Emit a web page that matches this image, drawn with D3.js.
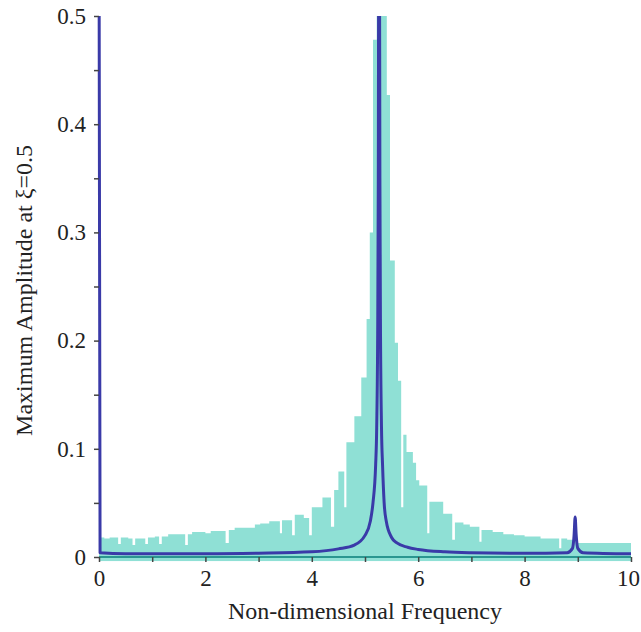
<!DOCTYPE html>
<html>
<head>
<meta charset="utf-8">
<script src="https://cdn.jsdelivr.net/npm/d3@7"></script>
<style>
  body { margin: 0; background: #fff; }
  svg text { font-family: "Liberation Serif", "Times New Roman", Tinos, "DejaVu Serif", serif; fill: #222; }
</style>
</head>
<body>
<svg id="chart"></svg>
<script>
// measured spectrum (step bins: start frequency, amplitude)
var specFreq = [0.00, 0.10, 0.20, 0.36, 0.41, 0.55, 0.63, 0.68, 0.87, 0.92, 1.05, 1.13, 1.18, 1.30,
                1.62, 1.67, 1.75, 2.00, 2.10, 2.38, 2.44, 2.55, 2.93, 3.03, 3.20, 3.40, 3.44, 3.63,
                3.68, 3.85, 3.95, 4.00, 4.20, 4.36, 4.42, 4.50, 4.61, 4.65, 4.80, 4.93, 5.03, 5.09,
                5.15, 5.22, 5.41, 5.47, 5.56, 5.62, 5.68, 5.72, 5.78, 5.90, 5.96, 6.02, 6.17, 6.21,
                6.47, 6.64, 6.69, 6.85, 6.97, 7.15, 7.19, 7.40, 7.60, 7.80, 8.00, 8.30, 8.65, 8.69,
                8.80, 9.00, 9.40, 10.00];
var specAmp  = [0.018, 0.017, 0.018, 0.012, 0.018, 0.017, 0.011, 0.017, 0.012, 0.018, 0.019, 0.012, 0.019, 0.021,
                0.011, 0.021, 0.023, 0.022, 0.024, 0.013, 0.025, 0.027, 0.030, 0.031, 0.033, 0.022, 0.034, 0.020,
                0.039, 0.036, 0.020, 0.046, 0.055, 0.028, 0.062, 0.079, 0.046, 0.106, 0.130, 0.166, 0.220, 0.300,
                0.478, 0.600, 0.427, 0.274, 0.198, 0.163, 0.046, 0.113, 0.097, 0.087, 0.071, 0.066, 0.022, 0.051,
                0.040, 0.016, 0.032, 0.030, 0.028, 0.014, 0.025, 0.023, 0.021, 0.020, 0.019, 0.017, 0.008, 0.017,
                0.016, 0.013, 0.013, 0.013];

// computed response curve
var respFreq = [0.00, 0.02, 0.50, 1.00, 2.00, 3.00, 4.00, 4.50, 4.80, 5.00, 5.10, 5.15, 5.20, 5.22, 5.24,
                5.25, 5.26, 5.27, 5.28, 5.29, 5.31, 5.33, 5.36, 5.40, 5.50, 5.60, 5.80, 6.00, 6.50,
                7.00, 8.00, 8.80, 8.90, 8.93, 8.95, 8.97, 9.00, 9.10, 10.00];
var respAmp  = [0.600, 0.004, 0.003, 0.003, 0.003, 0.0035, 0.0048, 0.0075, 0.011, 0.020, 0.033, 0.050, 0.085, 0.120, 0.220,
                0.350, 0.600, 0.600, 0.350, 0.220, 0.120, 0.085, 0.050, 0.033, 0.018, 0.013, 0.009, 0.007, 0.0048,
                0.004, 0.0035, 0.004, 0.008, 0.020, 0.037, 0.020, 0.008, 0.004, 0.003];

var xTicks = [0, 2, 4, 6, 8, 10];
var xMinor = [1, 3, 5, 7, 9];
var yTicks = [0, 0.1, 0.2, 0.3, 0.4, 0.5];
var yMinor = [0.05, 0.15, 0.25, 0.35, 0.45];

var width = 641;
var height = 632;
var serif = "'Liberation Serif', 'Times New Roman', Tinos, 'DejaVu Serif', serif";

var svg = d3.select("#chart")
  .attr("width", width)
  .attr("height", height);

var x = d3.scaleLinear().domain([0, 10]).range([99, 631]);
var y = d3.scaleLinear().domain([0, 0.5]).range([557, 16]);

svg.append("clipPath").attr("id", "plotclip")
  .append("rect")
  .attr("x", x(0) - 2)
  .attr("y", y(0.5))
  .attr("width", x(10) - x(0) + 4)
  .attr("height", y(-0.004) - y(0.5));

var plot = svg.append("g").attr("clip-path", "url(#plotclip)");

var spec = specFreq.map(function(f, i) { return {f: f, a: specAmp[i]}; });
var resp = respFreq.map(function(f, i) { return {f: f, a: respAmp[i]}; });

var area = d3.area()
  .curve(d3.curveStepAfter)
  .x(function(d) { return x(d.f); })
  .y0(y(-0.004))
  .y1(function(d) { return y(d.a); });

plot.append("path")
  .datum(spec)
  .attr("d", area)
  .attr("fill", "#8fe0d5");

// baseline
plot.append("line")
  .attr("x1", x(0)).attr("x2", x(10))
  .attr("y1", y(0)).attr("y2", y(0))
  .attr("stroke", "#2a9690")
  .attr("stroke-width", 2);

// axes
svg.append("g")
  .attr("transform", "translate(0," + y(0) + ")")
  .call(d3.axisBottom(x).tickValues(xTicks).tickFormat(d3.format("d")).tickSize(5).tickPadding(8));

svg.append("g")
  .attr("transform", "translate(0," + y(0) + ")")
  .call(d3.axisBottom(x).tickValues(xMinor).tickFormat("").tickSize(5))
  .select(".domain").remove();

svg.append("g")
  .attr("transform", "translate(" + x(0) + ",0)")
  .call(d3.axisLeft(y).tickValues(yTicks).tickFormat(function(d) { return d === 0 ? "0" : d3.format(".1f")(d); }).tickSize(5).tickPadding(8));

svg.append("g")
  .attr("transform", "translate(" + x(0) + ",0)")
  .call(d3.axisLeft(y).tickValues(yMinor).tickFormat("").tickSize(5))
  .select(".domain").remove();

svg.selectAll("g").attr("font-family", null);
svg.selectAll(".tick line").attr("stroke", "#444").attr("stroke-width", 1.5);
svg.selectAll(".domain").attr("stroke", "none");
svg.selectAll(".tick text")
  .attr("font-family", serif)
  .attr("font-size", 23)
  .attr("fill", "#222");

// keep the last x label inside the page
svg.selectAll(".tick text")
  .filter(function(d) { return d === 10; })
  .attr("dx", -3);

// response line on top
var line = d3.line()
  .curve(d3.curveMonotoneX)
  .x(function(d) { return x(d.f); })
  .y(function(d) { return y(d.a); });

plot.append("path")
  .datum(resp)
  .attr("d", line)
  .attr("fill", "none")
  .attr("stroke", "#3a3aa8")
  .attr("stroke-width", 3)
  .attr("stroke-linejoin", "round");

// titles
svg.append("text")
  .attr("x", (x(0) + x(10)) / 2)
  .attr("y", 619)
  .attr("text-anchor", "middle")
  .attr("font-family", serif)
  .attr("font-size", 24)
  .text("Non-dimensional Frequency");

svg.append("text")
  .attr("transform", "translate(32," + ((y(0) + y(0.5)) / 2 + 4) + ") rotate(-90)")
  .attr("text-anchor", "middle")
  .attr("font-family", serif)
  .attr("font-size", 24)
  .text("Maximum Amplitude at ξ=0.5");
</script>
</body>
</html>
